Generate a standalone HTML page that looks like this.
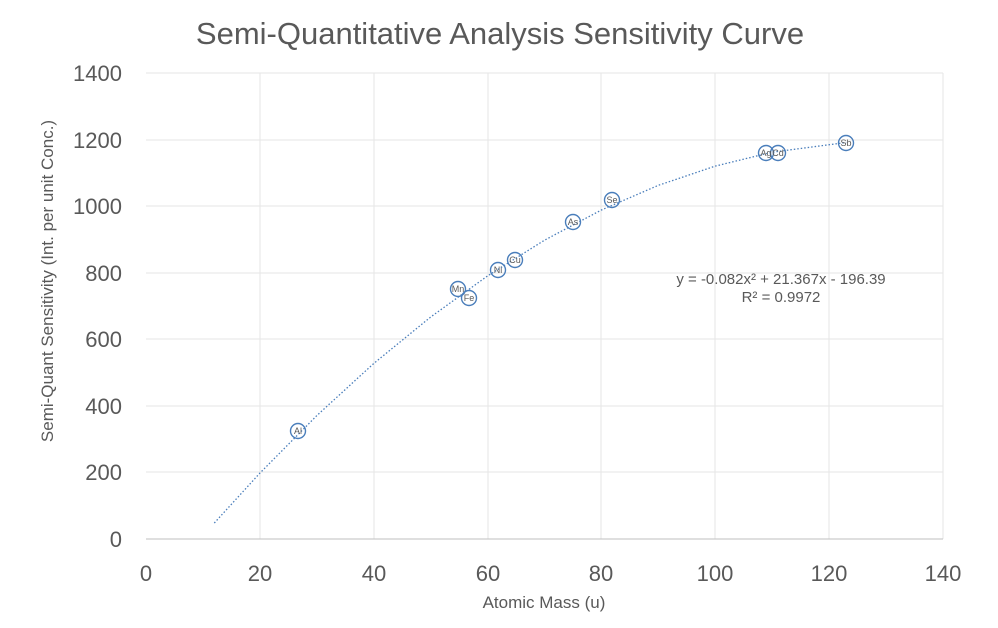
<!DOCTYPE html>
<html><head><style>body{margin:0;background:#fff}svg{display:block;font-family:"Liberation Sans",sans-serif}</style></head>
<body>
<svg width="998" height="628" viewBox="0 0 998 628">
<text x="500" y="44" text-anchor="middle" font-size="31" fill="#595959">Semi-Quantitative Analysis Sensitivity Curve</text>
<g stroke="#e6e6e6" stroke-width="1">
<line x1="146" y1="73" x2="943" y2="73"/><line x1="146" y1="140" x2="943" y2="140"/><line x1="146" y1="206" x2="943" y2="206"/><line x1="146" y1="273" x2="943" y2="273"/><line x1="146" y1="339" x2="943" y2="339"/><line x1="146" y1="406" x2="943" y2="406"/><line x1="146" y1="472" x2="943" y2="472"/>
<line x1="260" y1="73" x2="260" y2="539"/><line x1="374" y1="73" x2="374" y2="539"/><line x1="488" y1="73" x2="488" y2="539"/><line x1="601" y1="73" x2="601" y2="539"/><line x1="715" y1="73" x2="715" y2="539"/><line x1="829" y1="73" x2="829" y2="539"/><line x1="943" y1="73" x2="943" y2="539"/>
</g>
<line x1="146" y1="539" x2="943" y2="539" stroke="#bfbfbf"/>
<g font-size="22" fill="#595959" text-anchor="end">
<text x="122" y="81">1400</text><text x="122" y="148">1200</text><text x="122" y="214">1000</text><text x="122" y="281">800</text><text x="122" y="347">600</text><text x="122" y="414">400</text><text x="122" y="480">200</text><text x="122" y="547">0</text>
</g>
<g font-size="22" fill="#595959" text-anchor="middle">
<text x="146" y="581">0</text><text x="260" y="581">20</text><text x="374" y="581">40</text><text x="488" y="581">60</text><text x="601" y="581">80</text><text x="715" y="581">100</text><text x="829" y="581">120</text><text x="943" y="581">140</text>
</g>
<text x="544" y="608" text-anchor="middle" font-size="17" fill="#595959">Atomic Mass (u)</text>
<text transform="translate(53,281) rotate(-90)" text-anchor="middle" font-size="17" fill="#595959">Semi-Quant Sensitivity (Int. per unit Conc.)</text>
<polyline fill="none" stroke="#4a7ebb" stroke-width="1.3" stroke-dasharray="1.5,2" points="214.3,523 259.9,473.1 316.8,415.6 373.7,363.5 430.7,317 487.6,275.9 544.5,240.2 601.4,210 658.4,185.3 715.3,166.1 772.2,152.2 846.2,142.5"/>
<g fill="none" stroke="#4a7ebb" stroke-width="1.4">
<circle cx="298" cy="431" r="7.5"/><circle cx="458" cy="289" r="7.5"/><circle cx="469" cy="298" r="7.5"/><circle cx="498" cy="270" r="7.5"/><circle cx="515" cy="260" r="7.5"/><circle cx="573" cy="222" r="7.5"/><circle cx="612" cy="200" r="7.5"/><circle cx="766" cy="153" r="7.5"/><circle cx="778" cy="153" r="7.5"/><circle cx="846" cy="143" r="7.5"/>
</g>
<g font-size="9" fill="#595959" text-anchor="middle">
<text x="298" y="434">Al</text><text x="458" y="292">Mn</text><text x="469" y="301">Fe</text><text x="498" y="273">Ni</text><text x="515" y="263">Cu</text><text x="573" y="225">As</text><text x="612" y="203">Se</text><text x="766" y="156">Ag</text><text x="778" y="156">Cd</text><text x="846" y="146">Sb</text>
</g>
<text x="781" y="284" text-anchor="middle" font-size="15" fill="#595959">y = -0.082x² + 21.367x - 196.39</text>
<text x="781" y="302" text-anchor="middle" font-size="15" fill="#595959">R² = 0.9972</text>
</svg>
</body></html>
